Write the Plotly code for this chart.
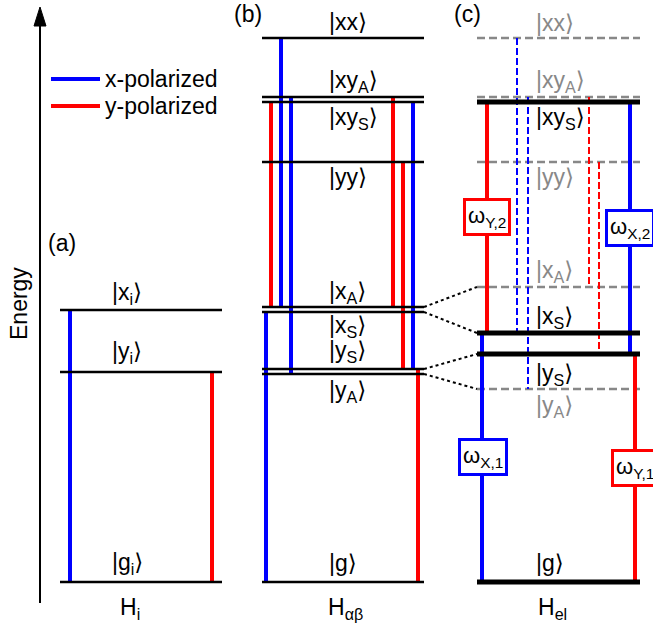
import plotly.graph_objects as go

BLUE = "#0000ff"
RED = "#ff0000"
GRAY = "#888888"
BLACK = "#000000"
FONT = "Liberation Sans, Arial, DejaVu Sans, sans-serif"

# ---------------- data: energies (arbitrary units, ground state = 0) -------------
a_states = ["g_i", "y_i", "x_i"]
a_energy = [0, 210, 272]
a_labels = ["|g<sub>i</sub>\u27e9", "|y<sub>i</sub>\u27e9", "|x<sub>i</sub>\u27e9"]

b_states = ["g", "y_A", "y_S", "x_S", "x_A", "yy", "xy_S", "xy_A", "xx"]
b_energy = [0, 208, 213, 270, 275, 420, 480, 485, 544]
b_labels = ["|g\u27e9", "|y<sub>A</sub>\u27e9", "|y<sub>S</sub>\u27e9", "|x<sub>S</sub>\u27e9",
            "|x<sub>A</sub>\u27e9", "|yy\u27e9", "|xy<sub>S</sub>\u27e9", "|xy<sub>A</sub>\u27e9", "|xx\u27e9"]

c_states = ["g", "y_A", "y_S", "x_S", "x_A", "yy", "xy_S", "xy_A", "xx"]
c_energy = [0, 193, 228, 249, 295, 420, 480, 485, 544]
c_bright = [True, False, True, True, False, False, True, False, False]
c_labels = b_labels

# transitions: (upper state, lower state, polarization)
a_trans = [("x_i", "g_i", "x"), ("y_i", "g_i", "y")]
b_trans = [("x_S", "g", "x"), ("xy_S", "x_A", "y"), ("xx", "x_A", "x"), ("xy_A", "y_A", "x"),
           ("xy_A", "x_A", "y"), ("yy", "y_S", "y"), ("xy_S", "y_S", "x"), ("y_S", "g", "y")]
c_trans = [("x_S", "g", "x", True), ("xy_S", "x_S", "y", True), ("xx", "x_S", "x", False),
           ("xy_A", "y_A", "x", False), ("xy_A", "x_A", "y", False), ("yy", "y_S", "y", False),
           ("xy_S", "y_S", "x", True), ("y_S", "g", "y", True)]
# connections between panel (b) and panel (c)
links = [("x_A", "x_A"), ("x_S", "x_S"), ("y_S", "y_S"), ("y_A", "y_A")]
# frequency boxes on panel (c) transitions: (upper, lower, text)
boxes = [("xy_S", "x_S", "\u03c9<sub>Y,2</sub>"), ("xy_S", "y_S", "\u03c9<sub>X,2</sub>"),
         ("x_S", "g", "\u03c9<sub>X,1</sub>"), ("y_S", "g", "\u03c9<sub>Y,1</sub>")]

# ---------------- layout (positions / styles) ----------------
PANEL_X = {"a": (60, 222), "b": (262, 424), "c": (477, 640)}
LABEL_X = {"a": 110, "b": 327, "c": 534}
a_lab_off = [19, 20, 17]
b_lab_off = [19, -17, 18, -14, 15, -15, -16, 16, 16]
c_lab_off = [19, -17, -20, 16, 16, -15, -16, 16, 15]
a_tx = [70, 212]
b_tx = [266, 271, 281, 291, 393, 403, 413, 418]
c_tx = [482, 487, 517, 528, 589, 599, 630, 635]
box_pos = [(487, 365), (630, 354), (483, 125), (635, 114)]
FS = 23

fig = go.Figure()


def line(xs, ys, color, width, dash=None):
    fig.add_trace(go.Scatter(x=xs, y=ys, mode="lines", hoverinfo="skip", showlegend=False,
                             line=dict(color=color, width=width, dash=dash)))


def text(x, y, s, color=BLACK, size=FS, xanchor="left", angle=0):
    fig.add_annotation(x=x, y=y, text=s, showarrow=False, xanchor=xanchor, yanchor="middle",
                       textangle=angle, font=dict(family=FONT, size=size, color=color))


col = {"x": BLUE, "y": RED}

# panel (a)
Ea = dict(zip(a_states, a_energy))
for (u, l, p), x in zip(a_trans, a_tx):
    line([x, x], [Ea[u], Ea[l]], col[p], 4)
for E, lab, off in zip(a_energy, a_labels, a_lab_off):
    line(list(PANEL_X["a"]), [E, E], BLACK, 2.5)
    text(LABEL_X["a"], E + off, lab)

# panel (b)
Eb = dict(zip(b_states, b_energy))
for (u, l, p), x in zip(b_trans, b_tx):
    line([x, x], [Eb[u], Eb[l]], col[p], 4)
for E, lab, off in zip(b_energy, b_labels, b_lab_off):
    line(list(PANEL_X["b"]), [E, E], BLACK, 2.5)
    text(LABEL_X["b"], E + off, lab)

# panel (c)
Ec = dict(zip(c_states, c_energy))
for E, br in zip(c_energy, c_bright):
    if not br:
        line(list(PANEL_X["c"]), [E, E], GRAY, 2.5, "8px,4px")
for (u, l, p, bright), x in zip(c_trans, c_tx):
    if bright:
        line([x, x], [Ec[u], Ec[l]], col[p], 4)
    else:
        line([x, x], [Ec[u], Ec[l]], col[p], 2, "7px,3px")
for E, br, lab, off in zip(c_energy, c_bright, c_labels, c_lab_off):
    if br:
        line(list(PANEL_X["c"]), [E, E], BLACK, 5)
    text(LABEL_X["c"], E + off, lab, BLACK if br else GRAY)

# dotted links
for sb, sc in links:
    line([PANEL_X["b"][1], PANEL_X["c"][0]], [Eb[sb], Ec[sc]], BLACK, 2, "dot")

# boxes
for (u, l, s), (bx, by) in zip(boxes, box_pos):
    c = BLUE if "X" in s else RED
    fig.add_annotation(x=bx, y=by, text=s, showarrow=False, xanchor="center", yanchor="middle",
                       font=dict(family=FONT, size=22, color=BLACK), bgcolor="white",
                       bordercolor=c, borderwidth=3, borderpad=2)

# energy axis
line([40, 40], [-21, 558], BLACK, 2)
fig.add_shape(type="path", path="M 40 575 L 34 556 L 46 556 Z", fillcolor=BLACK,
              line=dict(color=BLACK, width=1), xref="x", yref="y")
text(19, 278, "Energy", size=FS, xanchor="center", angle=-90)

# legend
line([51, 100], [503, 503], BLUE, 4)
line([51, 100], [476, 476], RED, 4)
text(103, 503, "x-polarized")
text(103, 476, "y-polarized")

# panel letters
text(62, 339, "(a)", xanchor="center")
text(248, 568, "(b)", xanchor="center")
text(467, 568, "(c)", xanchor="center")

# Hamiltonian labels
text(130, -26, "H<sub>i</sub>", xanchor="center")
text(345, -26, "H<sub>\u03b1\u03b2</sub>", xanchor="center")
text(552, -26, "H<sub>el</sub>", xanchor="center")

fig.update_layout(width=653, height=634, autosize=False, margin=dict(l=0, r=0, t=0, b=0),
                  paper_bgcolor="white", plot_bgcolor="white",
                  xaxis=dict(range=[0, 653], visible=False, fixedrange=True),
                  yaxis=dict(range=[-52, 582], visible=False, fixedrange=True))
fig.write_html("out.html")
